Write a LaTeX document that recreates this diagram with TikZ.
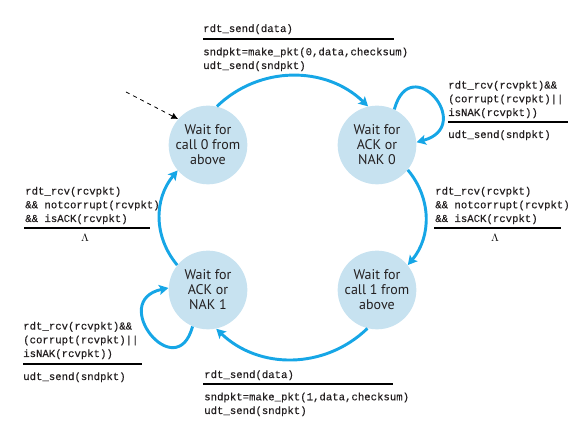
\documentclass[tikz,border=0pt]{standalone}
\usepackage{fontspec}
\setmainfont{PT Sans}
\setmonofont{Liberation Mono}[FakeBold=0.35]
\usetikzlibrary{arrows.meta}

\definecolor{stateblue}{RGB}{199,226,240}
\definecolor{edgeblue}{RGB}{22,166,230}
\definecolor{inkgray}{RGB}{35,31,32}

\begin{document}
\begin{tikzpicture}[x=0.75pt,y=0.75pt,
  state/.style={circle,fill=stateblue,minimum size=59pt,inner sep=0pt,align=center,
    text=inkgray,font=\fontsize{10.5}{11.3}\selectfont},
  trans/.style={draw=edgeblue,line width=2.2pt,-{Stealth[length=7pt,width=7.5pt,inset=1.5pt]}},
  lbl/.style={anchor=base west,inner sep=0pt,align=left,text=inkgray,
    font=\ttfamily\fontsize{8}{10.3}\selectfont},
  bar/.style={line width=0.8pt}]
  \useasboundingbox (0,0) rectangle (584,434);
  % states
  \node[state] (call0) at (208,289) {Wait for\\call 0 from\\above};
  \node[state] (ack0) at (377,289) {Wait for\\ACK or\\NAK 0};
  \node[state] (call1) at (377,144) {Wait for\\call 1 from\\above};
  \node[state] (ack1) at (208,144) {Wait for\\ACK or\\NAK 1};
  % initial state
  \coordinate (init) at (126,342);
  \draw[dashed,line width=0.6pt,-{Latex[length=5pt,width=5pt]}] (init)--(call0.139);
  % transitions
  \draw[trans] (call0.77) to[out=44,in=136] (ack0.103);
  \draw[trans] (ack0.-39) to[out=-50,in=50] (call1.39);
  \draw[trans] (call1.256) to[out=224,in=-44] (ack1.282);
  \draw[trans] (ack1.141) to[out=130,in=-130] (call0.220);
  \draw[trans] (ack0.64) to[out=75,in=15,looseness=4] (ack0.4);
  \draw[trans] (ack1.247) to[out=255,in=192,looseness=3.5] (ack1.177);
  % labels (base = last line)
  \node[lbl] (send0ev) at (203,402) {rdt\_send(data)};
  \draw[bar] (203,395)--(394,395);
  \node[lbl] (send0act) at (203,365) {sndpkt=make\_pkt(0,data,checksum)\\udt\_send(sndpkt)};
  \node[lbl] (nak0ev) at (448,318) {rdt\_rcv(rcvpkt)\&\&\\(corrupt(rcvpkt)||\\isNAK(rcvpkt))};
  \draw[bar] (448,312)--(568,312);
  \node[lbl] (nak0act) at (448,296) {udt\_send(sndpkt)};
  \node[lbl] (ok0ev) at (435,212) {rdt\_rcv(rcvpkt)\\\&\& notcorrupt(rcvpkt)\\\&\& isACK(rcvpkt)};
  \draw[bar] (434,206)--(561,206);
  \node[anchor=base,inner sep=0pt,font=\fontsize{8}{10}\selectfont] (ok0act) at (495,192) {$\Lambda$};
  \node[lbl] (ok1ev) at (25,212) {rdt\_rcv(rcvpkt)\\\&\& notcorrupt(rcvpkt)\\\&\& isACK(rcvpkt)};
  \draw[bar] (24,206)--(150,206);
  \node[anchor=base,inner sep=0pt,font=\fontsize{8}{10}\selectfont] (ok1act) at (85,192) {$\Lambda$};
  \node[lbl] (nak1ev) at (23,77) {rdt\_rcv(rcvpkt)\&\&\\(corrupt(rcvpkt)||\\isNAK(rcvpkt))};
  \draw[bar] (23,70)--(142,70);
  \node[lbl] (nak1act) at (23,54) {udt\_send(sndpkt)};
  \node[lbl] (send1ev) at (204,56) {rdt\_send(data)};
  \draw[bar] (203,50)--(393,50);
  \node[lbl] (send1act) at (204,20) {sndpkt=make\_pkt(1,data,checksum)\\udt\_send(sndpkt)};
\end{tikzpicture}
\end{document}
